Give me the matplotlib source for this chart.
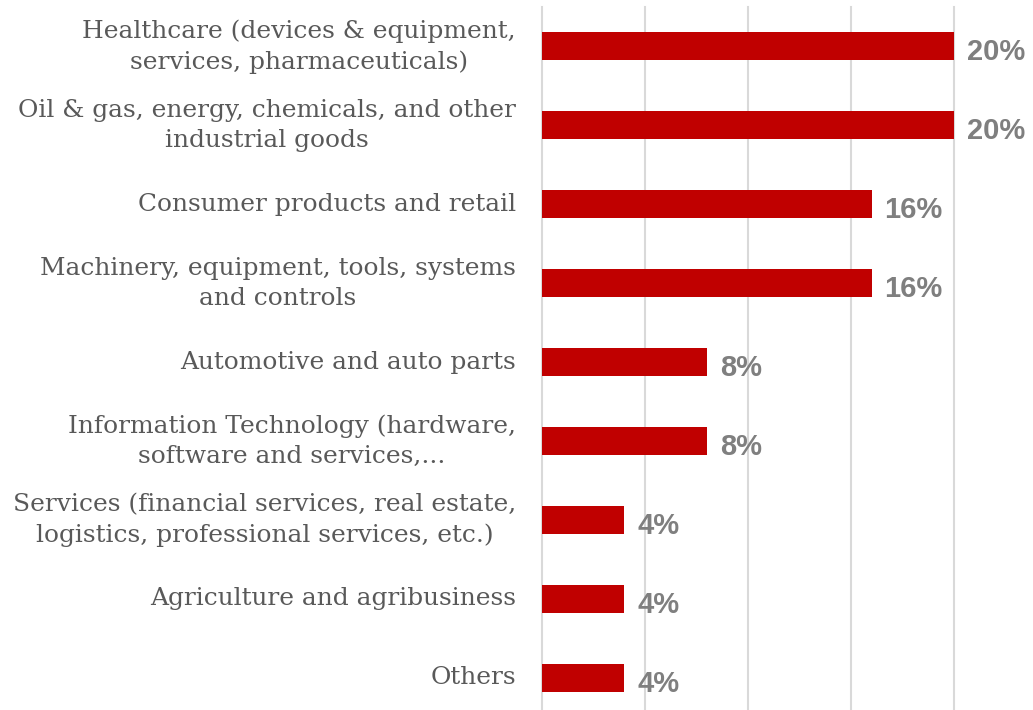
import matplotlib.pyplot as plt
from matplotlib.transforms import offset_copy

# sector shares, top to bottom
sectors = [
    "Healthcare (devices & equipment,\nservices, pharmaceuticals)",
    "Oil & gas, energy, chemicals, and other\nindustrial goods",
    "Consumer products and retail",
    "Machinery, equipment, tools, systems\nand controls",
    "Automotive and auto parts",
    "Information Technology (hardware,\nsoftware and services,...",
    "Services (financial services, real estate,\nlogistics, professional services, etc.)",
    "Agriculture and agribusiness",
    "Others",
]
shares = [20, 20, 16, 16, 8, 8, 4, 4, 4]

W, H = 1033, 710
fig = plt.figure(figsize=(W / 100, H / 100), dpi=100)
ax = fig.add_axes([542 / W, -7 / H, (954 - 542) / W, (717 - 7) / H])

ypos = list(range(len(sectors)))
ax.barh(ypos, shares, height=0.356, color="#C00000", zorder=3)
ax.set_ylim(len(sectors) - 0.5, -0.5)
ax.set_xlim(0, 20)

ax.set_xticks([0, 5, 10, 15, 20])
ax.xaxis.grid(True, color="#D9D9D9", linewidth=1.5, zorder=0, clip_on=False)
for spine in ax.spines.values():
    spine.set_visible(False)
ax.tick_params(left=False, bottom=False, labelbottom=False, labelleft=False)

# category labels, right aligned against the axis
lab_tr = offset_copy(ax.get_yaxis_transform(), fig=fig, x=-26, y=0, units="dots")
for y, name in zip(ypos, sectors):
    ax.text(0, y, name, transform=lab_tr, ha="right", va="center",
            multialignment="center", family="DejaVu Serif", fontsize=17.9,
            color="#595959", linespacing=1.4)

# value labels at the bar ends
val_tr = offset_copy(ax.transData, fig=fig, x=13, y=-6, units="dots")
for y, v in zip(ypos, shares):
    ax.text(v, y, f"{v}%", transform=val_tr, ha="left", va="center",
            family="Liberation Sans", fontweight="bold", fontsize=21,
            color="#7F7F7F", clip_on=False)

fig.savefig("out.png", dpi=100)
